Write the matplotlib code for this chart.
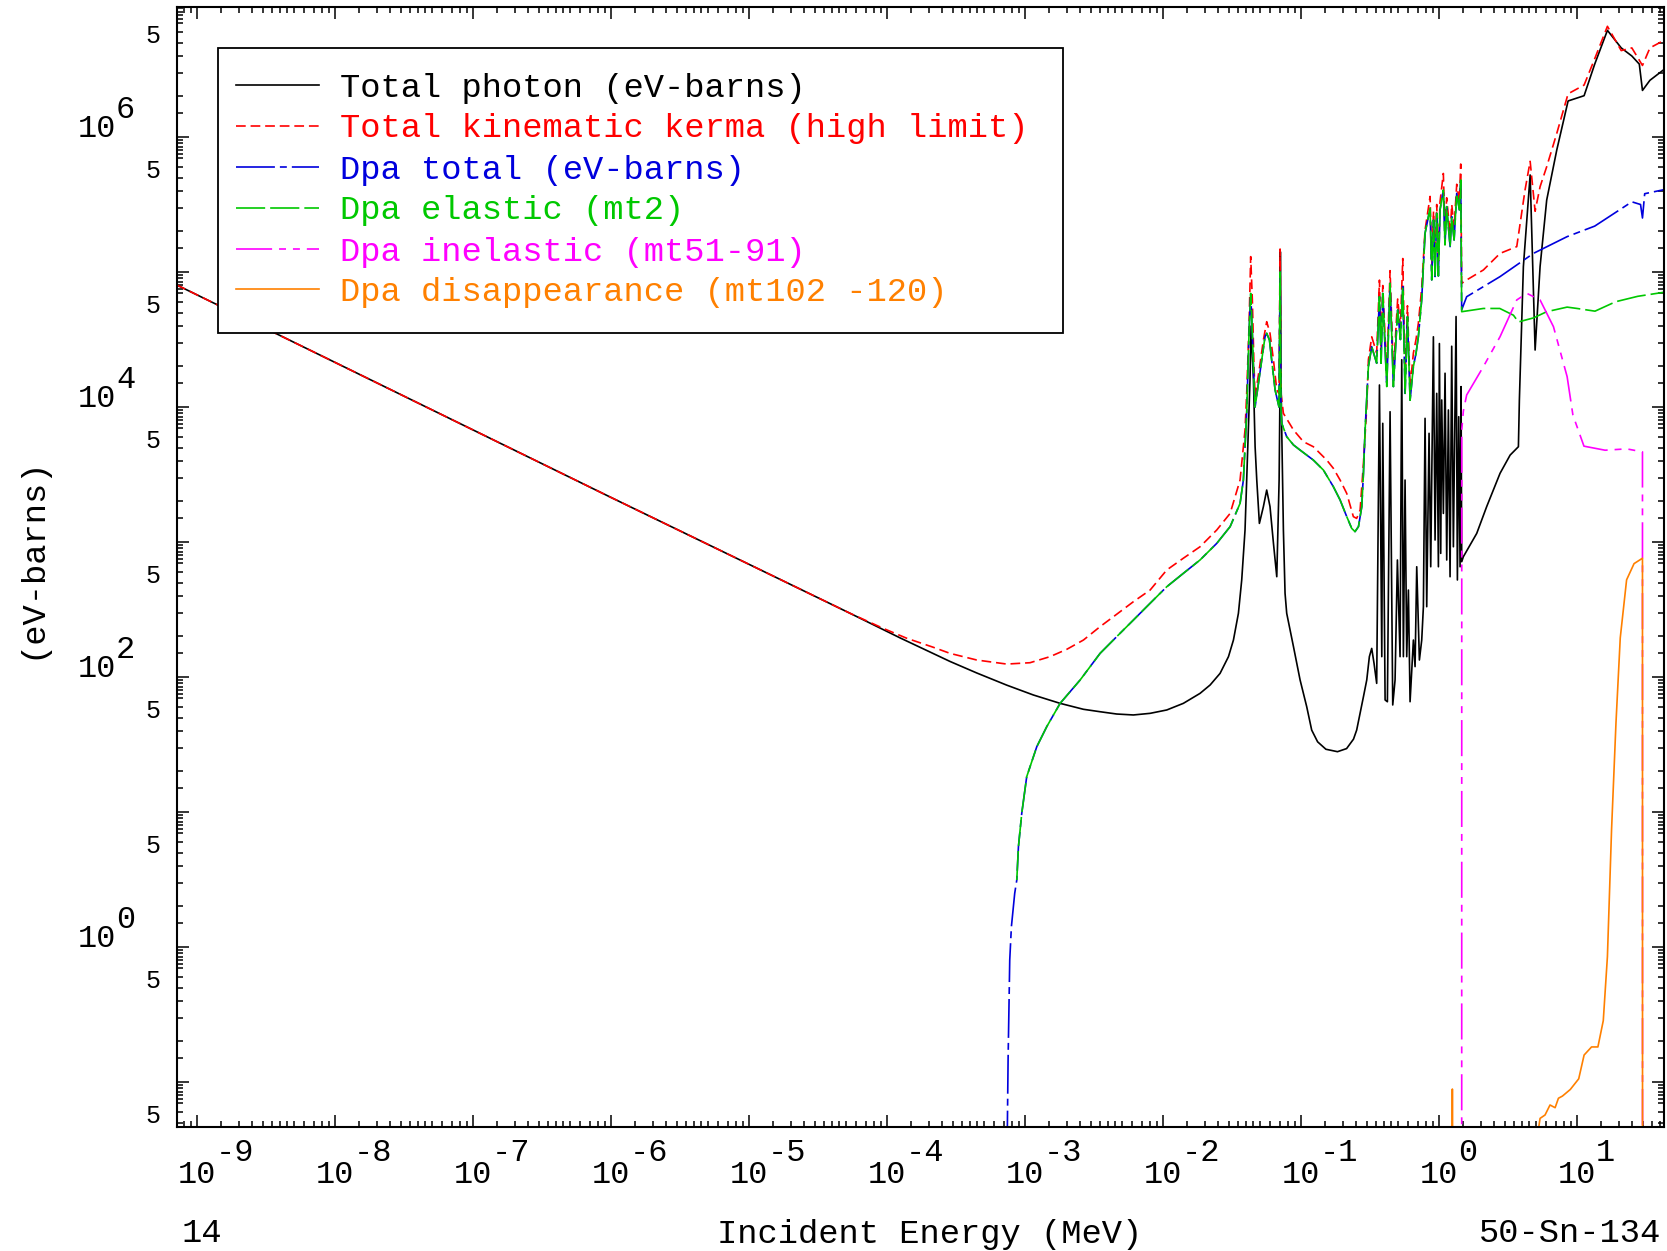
import numpy as np
import matplotlib
matplotlib.use('Agg')
import matplotlib.pyplot as plt
from matplotlib import transforms
from matplotlib.patches import Rectangle
from matplotlib.lines import Line2D

# values, stored as log10(E / MeV) and log10(eV-barns)
photon_le = [-9.149, -6.0, -4.268, -3.906, -3.543, -3.35, -3.133, -2.94, -2.746, -2.577,
             -2.4565, -2.336, -2.215, -2.094, -1.973, -1.853, -1.732, -1.659, -1.587, -1.526,
             -1.49, -1.454, -1.43, -1.406, -1.394, -1.37, -1.362, -1.345, -1.333, -1.321,
             -1.302, -1.273, -1.249, -1.225, -1.2, -1.176, -1.159, -1.152, -1.150, -1.145,
             -1.14, -1.128, -1.116, -1.104, -1.055, -1.007, -0.959, -0.923, -0.88, -0.82,
             -0.736, -0.67, -0.62, -0.597, -0.572, -0.548, -0.524, -0.505, -0.488, -0.471,
             -0.452, -0.432, -0.415, -0.408, -0.391,
             -0.3744, -0.355, -0.3357, -0.3188, -0.3019, -0.2826, -0.2705, -0.2585, -0.2464, -0.2343,
             -0.2222, -0.2101, -0.186, -0.1739, -0.1618, -0.1425, -0.1256, -0.1135, -0.1015, -0.0894,
             -0.0725, -0.0604, -0.0411, -0.029, -0.017, -0.0048, 0.0024, 0.012, 0.0193, 0.0313,
             0.0434, 0.0555, 0.0676, 0.0797, 0.0917, 0.1038, 0.1232, 0.1328, 0.1425, 0.1522,
             0.1594, 0.1642, 0.176, 0.273, 0.345, 0.442, 0.515, 0.575, 0.582, 0.611,
             0.66, 0.696, 0.732, 0.78, 0.853, 0.935, 1.051, 1.128, 1.22, 1.32,
             1.397, 1.451, 1.474, 1.528, 1.63]
photon_ly = [4.905, 3.33, 2.472, 2.29, 2.115, 2.03, 1.94, 1.867, 1.805, 1.761,
             1.743, 1.726, 1.719, 1.731, 1.756, 1.805, 1.879, 1.941, 2.027, 2.151,
             2.274, 2.472, 2.719, 3.089, 3.459, 4.2, 4.6, 4.2, 3.706, 3.46,
             3.138, 3.262, 3.385, 3.262, 2.99, 2.743, 3.46, 4.2, 5.15, 4.2,
             3.83, 3.089, 2.62, 2.472, 2.225, 1.978, 1.78, 1.607, 1.52, 1.465,
             1.447, 1.47, 1.54, 1.607, 1.731, 1.854, 1.978, 2.151, 2.212, 2.1,
             1.953, 4.163, 2.151, 3.879, 1.83,
             1.817, 3.965, 1.793, 1.978, 2.867, 2.151, 4.35, 2.151, 3.459, 2.151,
             2.644, 1.817, 2.274, 2.077, 2.817, 2.126, 2.274, 2.521, 3.916, 2.521,
             3.805, 2.817, 4.52, 3.015, 4.101, 2.817, 4.47, 2.916, 4.052, 3.212,
             4.25, 2.867, 3.978, 2.743, 4.45, 2.965, 4.67, 2.719, 3.928, 2.817,
             4.151, 2.854, 2.891, 3.064, 3.262, 3.509, 3.644, 3.706, 4.052, 5.04,
             5.719, 4.422, 5.04, 5.533, 5.904, 6.267, 6.306, 6.54, 6.79, 6.66,
             6.6, 6.54, 6.345, 6.42, 6.5]

kerma_le = [-9.149, -6.0, -4.268, -4.027, -3.857, -3.664, -3.543, -3.35, -3.133, -2.964,
            -2.819, -2.698, -2.577, -2.4565, -2.336, -2.215, -2.094, -1.973, -1.853, -1.732,
            -1.611, -1.514, -1.442, -1.406, -1.394, -1.377, -1.365, -1.353, -1.341, -1.333,
            -1.30, -1.273, -1.249, -1.225, -1.2, -1.176, -1.16, -1.152, -1.145, -1.128,
            -1.055, -0.983, -0.911, -0.814, -0.766, -0.717, -0.669, -0.621, -0.597, -0.572,
            -0.548, -0.524, -0.512, -0.488, -0.452, -0.432, -0.42, -0.408, -0.379,
            -0.355, -0.331, -0.3, -0.28, -0.263, -0.246, -0.229, -0.21, -0.186, -0.167,
            -0.15, -0.126, -0.1015, -0.065, -0.053, -0.04, -0.029, -0.017, -0.005, 0.007,
            0.031, 0.043, 0.055, 0.08, 0.092, 0.109, 0.128, 0.147, 0.157, 0.164,
            0.2, 0.321, 0.442, 0.563, 0.623, 0.66, 0.696, 0.732, 0.78, 0.853,
            0.935, 1.051, 1.128, 1.22, 1.32, 1.397, 1.474, 1.528, 1.63]
kerma_ly = [4.905, 3.33, 2.472, 2.36, 2.287, 2.22, 2.175, 2.126, 2.096, 2.106,
            2.151, 2.205, 2.274, 2.373, 2.465, 2.558, 2.644, 2.793, 2.88, 2.965,
            3.089, 3.212, 3.459, 3.83, 4.1, 4.6, 5.114, 4.793, 4.299, 4.077,
            4.299, 4.496, 4.632, 4.546, 4.348, 4.126, 4.1, 5.17, 4.1, 3.953,
            3.83, 3.743, 3.706, 3.607, 3.546, 3.459, 3.36, 3.188, 3.175, 3.237,
            3.583, 4.0, 4.35, 4.52, 4.4, 4.94, 4.42, 4.9, 4.25,
            5.01, 4.25, 4.8, 4.6, 5.1, 4.2, 4.75, 4.15, 4.4, 4.5,
            4.62, 4.88, 5.31, 5.56, 5.05, 5.45, 5.07, 5.5, 5.08, 5.52,
            5.73, 5.3, 5.55, 5.28, 5.5, 5.33, 5.65, 5.52, 5.80, 4.916,
            4.941, 5.015, 5.138, 5.188, 5.607, 5.82, 5.45, 5.632, 5.78, 6.027,
            6.32, 6.385, 6.58, 6.82, 6.64, 6.66, 6.53, 6.66, 6.716]

# elastic dpa below the inelastic threshold (dpa total lies on top of it there)
elastic_le = [-3.06, -3.048, -3.024, -2.988, -2.915, -2.843, -2.746, -2.601, -2.4565, -2.336,
              -2.215, -2.094, -1.973, -1.853, -1.732, -1.611, -1.514, -1.442, -1.418, -1.394,
              -1.377, -1.365, -1.353, -1.341, -1.333, -1.309, -1.285, -1.261, -1.249, -1.229,
              -1.213, -1.188, -1.16, -1.152, -1.145, -1.14, -1.104, -1.055, -1.007, -0.911,
              -0.838, -0.766, -0.717, -0.669, -0.633, -0.609, -0.584, -0.56, -0.548, -0.536,
              -0.512, -0.488, -0.452, -0.432, -0.42, -0.408, -0.379, -0.355, -0.331, -0.3,
              -0.28, -0.263, -0.246, -0.229, -0.21, -0.186, -0.167, -0.15, -0.126, -0.1015,
              -0.065, -0.053, -0.04, -0.029, -0.017, -0.005, 0.007, 0.031, 0.043, 0.055,
              0.08, 0.092, 0.109, 0.128, 0.147, 0.157]
elastic_ly = [0.496, 0.743, 0.99, 1.262, 1.484, 1.632, 1.805, 1.978, 2.175, 2.299,
              2.422, 2.546, 2.669, 2.768, 2.867, 2.99, 3.114, 3.286, 3.459, 3.953,
              4.546, 4.842, 4.546, 4.175, 4.0, 4.175, 4.348, 4.521, 4.546, 4.496,
              4.348, 4.126, 4.0, 5.0, 3.95, 3.879, 3.78, 3.719, 3.681, 3.607,
              3.533, 3.41, 3.311, 3.188, 3.101, 3.077, 3.114, 3.262, 3.509, 3.83,
              4.30, 4.447, 4.324, 4.817, 4.324, 4.842, 4.151, 4.916, 4.151, 4.719,
              4.5, 4.891, 4.101, 4.669, 4.05, 4.3, 4.398, 4.521, 4.793, 5.287,
              5.472, 4.941, 5.385, 4.966, 5.435, 4.97, 5.46, 5.608, 5.2, 5.484,
              5.188, 5.41, 5.237, 5.583, 5.46, 5.682]
elastic_hi_le = [0.164, 0.321, 0.44, 0.539, 0.575, 0.684, 0.78, 0.928, 1.0, 1.13, 1.28, 1.44, 1.63]
elastic_hi_ly = [4.706, 4.73, 4.73, 4.68, 4.63, 4.66, 4.706, 4.74, 4.73, 4.71, 4.78, 4.82, 4.85]

total_lo_le = [-3.13, -3.123, -3.115, -3.111, -3.099, -3.087, -3.075]
total_lo_ly = [-1.5, -0.837, -0.343, -0.096, 0.151, 0.274, 0.398]
total_hi_le = [0.164, 0.2, 0.442, 0.684, 0.928, 1.128, 1.397, 1.46, 1.474, 1.49, 1.63]
total_hi_ly = [4.72, 4.817, 4.966, 5.138, 5.262, 5.34, 5.52, 5.5, 5.4, 5.58, 5.61]

inel_le = [0.1640, 0.1645, 0.176, 0.2, 0.321, 0.442, 0.563, 0.636, 0.732, 0.829,
           0.928, 0.97, 1.05, 1.203, 1.359, 1.474, 1.4745]
inel_ly = [-3, 3.83, 3.97, 4.089, 4.299, 4.521, 4.793, 4.842, 4.793, 4.595,
           4.225, 3.94, 3.71, 3.68, 3.69, 3.668, -3]

disap_le = [0.0960, 0.0964, 0.0968, 0.72, 0.732, 0.768, 0.804, 0.841, 0.865, 0.894,
            0.951, 1.012, 1.051, 1.105, 1.151, 1.19, 1.22, 1.25, 1.282, 1.313,
            1.359, 1.413, 1.474, 1.4745]
disap_ly = [-3, -1.052, -3, -1.35, -1.269, -1.244, -1.17, -1.19, -1.12, -1.104,
            -1.055, -0.976, -0.80, -0.74, -0.74, -0.545, -0.07, 0.87, 1.66, 2.29,
            2.72, 2.84, 2.88, -3]

labels = ['Total photon (eV-barns)', 'Total kinematic kerma (high limit)',
          'Dpa total (eV-barns)', 'Dpa elastic (mt2)',
          'Dpa inelastic (mt51-91)', 'Dpa disappearance (mt102 -120)']
colors = ['black', '#ff0000', '#0000dd', '#00c800', '#ff00ff', '#ff8000']
styles = ['-', (0, (7, 3.5)), (0, (28, 3.6, 5, 3.6)), (0, (21, 3.6)),
          (0, (26, 5, 5, 5, 5, 5)), '-']

W, H = 1667, 1251
plt.rcParams['font.family'] = ['Liberation Mono', 'DejaVu Sans']
plt.rcParams['lines.scale_dashes'] = False

fig = plt.figure(figsize=(W / 100, H / 100), dpi=100)
L, R, T, B = 176.5, 1664, 7.4, 1127
ax = fig.add_axes([L / W, 1 - B / H, (R - L) / W, (B - T) / H])
ax.set_xscale('log')
ax.set_yscale('log')

p = lambda a: 10 ** np.asarray(a, dtype=float)
series = [
    (photon_le, photon_ly),
    (kerma_le, kerma_ly),
    (total_lo_le + elastic_le + total_hi_le, total_lo_ly + elastic_ly + total_hi_ly),
    (elastic_le + elastic_hi_le, elastic_ly + elastic_hi_ly),
    (inel_le, inel_ly),
    (disap_le, disap_ly),
]
for (le, ly), c, ls in zip(series, colors, styles):
    ax.plot(p(le), p(ly), color=c, linestyle=ls, linewidth=1.2)

# ticks
x_dec = np.arange(-9, 2)
x_minor_m = [1.5, 2, 2.5, 3, 3.5, 4, 4.5, 5, 6, 7, 8, 9]
y_minor_m = [1.5, 2, 3, 4, 5, 6, 7, 7.5, 8, 8.5, 9, 9.5]
ax.set_xticks(10.0 ** np.arange(-10, 2))
ax.set_xticks([m * 10.0 ** d for d in range(-10, 2) for m in x_minor_m], minor=True)
ax.set_yticks(10.0 ** np.arange(-2, 7))
ax.set_yticks([m * 10.0 ** d for d in range(-2, 7) for m in y_minor_m], minor=True)
ax.set_xticklabels([]); ax.set_xticklabels([], minor=True)
ax.set_yticklabels([]); ax.set_yticklabels([], minor=True)
ax.set_xlim(10 ** -9.149, 10 ** 1.630)
ax.set_ylim(10 ** -1.333, 10 ** 6.96)
ax.tick_params(which='both', direction='in', top=True, right=True, width=1.1, color='black')
ax.tick_params(which='major', length=8.6)
ax.tick_params(which='minor', length=4.3)
for s in ax.spines.values():
    s.set_linewidth(1.5)

pxT = transforms.Affine2D().scale(1, -1).translate(0, H)
bx = transforms.blended_transform_factory(ax.transData, pxT)
by = transforms.blended_transform_factory(pxT, ax.transData)

tfs = 23
for d in x_dec:
    ax.text(10.0 ** d, 1183, '10', transform=bx, ha='center', va='baseline', fontsize=tfs, clip_on=False)
    ax.text(10.0 ** d * 10 ** (19 / 138), 1161, str(d), transform=bx, ha='left', va='baseline',
            fontsize=tfs, clip_on=False)
for d in [0, 2, 4, 6]:
    ax.text(116, 10.0 ** d, '10', transform=by, ha='right', va='baseline', fontsize=tfs, clip_on=False)
    ax.text(116, 10.0 ** d * 10 ** (19 / 135), str(d), transform=by, ha='left', va='baseline',
            fontsize=tfs, clip_on=False)
for d in range(-2, 7):
    ax.text(153, 5 * 10.0 ** d, '5', transform=by, ha='center', va='baseline', fontsize=18, clip_on=False)

lfs = 24.3
fig.text(32 / W, 1 - 558 / H, '(eV-barns)', rotation=90, ha='center', va='center', fontsize=lfs)
fig.text(181 / W, 1 - 1234 / H, '14', ha='left', va='center', fontsize=lfs)
fig.text(930 / W, 1 - 1234 / H, 'Incident Energy (MeV)', ha='center', va='center', fontsize=lfs)
fig.text(1661 / W, 1 - 1234 / H, '50-Sn-134', ha='right', va='center', fontsize=lfs)

# legend box
ax.add_patch(Rectangle((218, 333), 1063 - 218, 48 - 333, transform=pxT, facecolor='white',
                       edgecolor='black', linewidth=1.3, zorder=5, clip_on=False))
rows = [88, 128.5, 170, 211, 252, 292]
for yy, lab, c, ls in zip(rows, labels, colors, styles):
    ax.add_line(Line2D([236, 319], [yy - 3, yy - 3], transform=pxT, color=c, linestyle=ls,
                       linewidth=1.2, zorder=6, clip_on=False))
    ax.text(340, yy, lab, transform=pxT, color=c, ha='left', va='center', fontsize=lfs, zorder=6)

fig.savefig('out.png', dpi=100)
